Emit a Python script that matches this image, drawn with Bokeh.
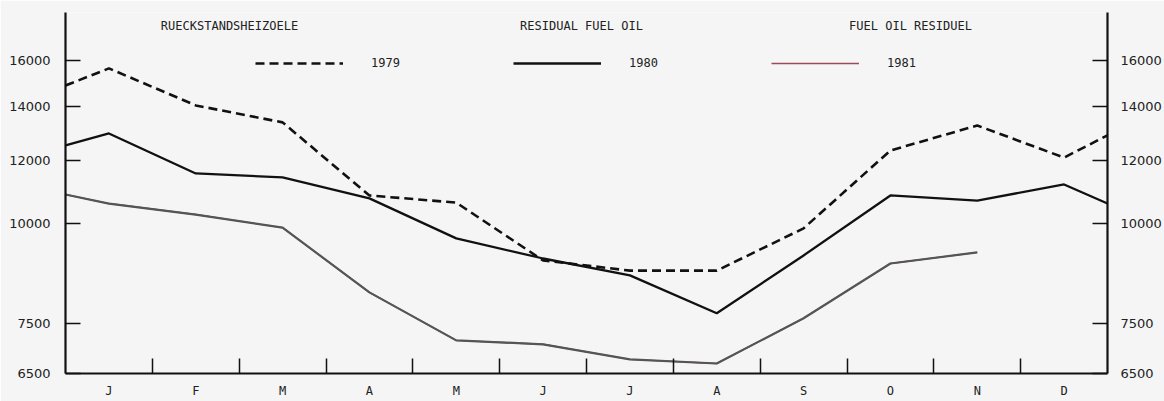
from bokeh.plotting import figure
from bokeh.models import (Range1d, FixedTicker, LogAxis, NumeralTickFormatter,
                          Legend, LegendItem, Label)
from bokeh.embed import file_html
from bokeh.resources import INLINE

# ---------------- data ----------------
months = ["J", "F", "M", "A", "M", "J", "J", "A", "S", "O", "N", "D"]
month_centers = [i + 0.5 for i in range(12)]
month_bounds = [float(i) for i in range(1, 12)]
y_ticks = [6500, 7500, 10000, 12000, 14000, 16000]

# values at year start edge, each month centre, and year end edge
v_1979 = [14890, 15640, 14060, 13390, 10850, 10630, 9000, 8740, 8740, 9870,
          12350, 13270, 12100, 12900]
v_1980 = [12530, 12970, 11560, 11430, 10760, 9590, 9050, 8620, 7730, 9130,
          10850, 10690, 11200, 10600]
# 1981: year start edge, then January..November
v_1981 = [10880, 10600, 10270, 9890, 8210, 7150, 7070, 6770, 6690, 7620,
          8920, 9210]

titles = ["RUECKSTANDSHEIZOELE", "RESIDUAL FUEL OIL", "FUEL OIL RESIDUEL"]

x_1979 = [0.0] + month_centers + [12.0]
x_1980 = [0.0] + month_centers + [12.0]
x_1981 = [0.0] + month_centers[:len(v_1981) - 1]

# ---------------- figure ----------------
BG = "#f5f5f5"
p = figure(width=1164, height=401, y_axis_type="log",
           x_range=Range1d(0, 12), y_range=Range1d(6500, 18370),
           output_backend="svg", toolbar_location=None,
           min_border_left=65, min_border_right=57,
           min_border_top=12, min_border_bottom=28)
p.background_fill_color = BG
p.border_fill_color = BG
p.outline_line_color = None
p.grid.visible = False

r79 = p.line(x_1979, v_1979, line_color="#111111", line_width=2.6,
             line_dash="9 5")
r80 = p.line(x_1980, v_1980, line_color="#111111", line_width=2.3)
# reddish copy underneath, used only as the legend sample of 1981
r81_leg = p.line(x_1981, v_1981, line_color="#9b4a5c", line_width=1.4)
r81 = p.line(x_1981, v_1981, line_color="#555555", line_width=2.2)

# x axis
xa = p.xaxis[0]
xa.ticker = FixedTicker(ticks=month_centers, minor_ticks=month_bounds)
xa.major_label_overrides = {c: m for c, m in zip(month_centers, months)}
xa.major_tick_line_color = None
xa.minor_tick_in = 15
xa.minor_tick_out = 0
xa.minor_tick_line_width = 1.5
xa.minor_tick_line_color = "#111111"
xa.axis_line_width = 2.2
xa.axis_line_color = "#111111"
xa.major_label_text_font = "DejaVu Sans Mono"
xa.major_label_text_font_size = "12px"
xa.major_label_text_color = "#222222"
xa.major_label_standoff = 4

# y axes
def style_y(ax, standoff):
    ax.ticker = FixedTicker(ticks=y_ticks, minor_ticks=[])
    ax.formatter = NumeralTickFormatter(format="0")
    ax.major_tick_in = 15
    ax.major_tick_out = 0
    ax.major_tick_line_width = 1.5
    ax.major_tick_line_color = "#111111"
    ax.minor_tick_line_color = None
    ax.axis_line_width = 2.2
    ax.axis_line_color = "#111111"
    ax.major_label_text_font = "DejaVu Sans"
    ax.major_label_text_font_size = "13px"
    ax.major_label_text_color = "#222222"
    ax.major_label_standoff = standoff

style_y(p.yaxis[0], 15)
ra = LogAxis()
style_y(ra, 13)
p.add_layout(ra, "right")

# legend
legend = Legend(items=[LegendItem(label="1979", renderers=[r79]),
                       LegendItem(label="1980", renderers=[r80]),
                       LegendItem(label="1981", renderers=[r81_leg])],
                orientation="horizontal", location=(190, 303),
                glyph_width=88, glyph_height=14, label_height=14,
                label_width=140, label_standoff=28, spacing=2,
                padding=0, margin=0,
                background_fill_alpha=0, border_line_color=None,
                label_text_font="DejaVu Sans Mono",
                label_text_font_size="12px", label_text_color="#222222")
p.add_layout(legend, "center")

# titles
for t, xc in zip(titles, [164, 516, 845]):
    p.add_layout(Label(x=xc, y=348, x_units="screen", y_units="screen",
                       text=t, text_align="center", text_baseline="middle",
                       text_font="DejaVu Sans Mono", text_font_size="12px",
                       text_color="#222222"))

open("out.html", "w").write(file_html(p, INLINE))
